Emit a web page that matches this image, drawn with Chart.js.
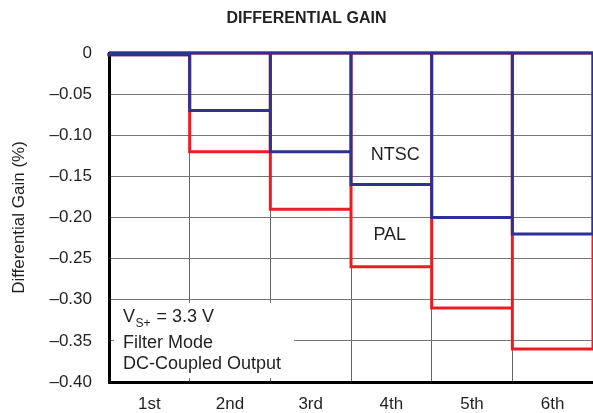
<!DOCTYPE html>
<html>
<head>
<meta charset="utf-8">
<script src="https://cdn.jsdelivr.net/npm/chart.js@4/dist/chart.umd.min.js"></script>
<style>
  body { margin: 0; background: #fff; }
  #wrap { width: 593px; height: 413px; }
</style>
</head>
<body>
<div id="wrap"><canvas id="myChart" width="593" height="413"></canvas></div>
<script>
// data
const categories = ['1st', '2nd', '3rd', '4th', '5th', '6th'];
const ntsc = [-0.002, -0.07, -0.12, -0.16, -0.20, -0.22];
const pal = [-0.002, -0.12, -0.19, -0.26, -0.31, -0.36];
const yTicks = [0, -0.05, -0.10, -0.15, -0.20, -0.25, -0.30, -0.35, -0.40];

const font = "'Liberation Sans', Arial, Helvetica, sans-serif";
const ink = '#231f20';

// each harmonic is an open box from 0 down to its value
function boxes(values) {
  let pts = [{ x: 0, y: 0 }];
  values.forEach((v, i) => {
    pts.push({ x: i, y: v });
    pts.push({ x: i + 1, y: v });
    pts.push({ x: i + 1, y: 0 });
  });
  pts.push({ x: 0, y: 0 });
  return pts;
}

const notes = {
  id: 'notes',
  beforeDatasetsDraw(chart) {
    const ctx = chart.ctx;
    const a = chart.chartArea;
    const y = chart.scales.y;
    // white panel behind the conditions text
    ctx.save();
    ctx.fillStyle = '#fff';
    const top = y.getPixelForValue(-0.30) + 3;
    ctx.fillRect(a.left + 5, top, 294 - (a.left + 5), a.bottom - 4 - top);
    ctx.restore();
  },
  afterDraw(chart) {
    const ctx = chart.ctx;
    const xl = chart.scales.xl;
    const y = chart.scales.y;
    ctx.save();
    ctx.fillStyle = ink;

    ctx.font = 'bold 16px ' + font;
    ctx.textAlign = 'center';
    ctx.textBaseline = 'middle';
    ctx.fillText('DIFFERENTIAL GAIN', 306.5, 19);

    ctx.font = '18px ' + font;
    ctx.fillText('NTSC', xl.getPixelForValue(3.55), y.getPixelForValue(-0.124));
    ctx.fillText('PAL', xl.getPixelForValue(3.48), y.getPixelForValue(-0.221));

    ctx.textAlign = 'left';
    ctx.textBaseline = 'alphabetic';
    ctx.fillText('V', 123, 322);
    ctx.font = '12px ' + font;
    ctx.fillText('S+', 135.5, 327);
    ctx.font = '18px ' + font;
    ctx.fillText('= 3.3 V', 156.5, 322);
    ctx.fillText('Filter Mode', 123, 347.5);
    ctx.fillText('DC-Coupled Output', 123, 369);
    ctx.restore();
  }
};

new Chart(document.getElementById('myChart').getContext('2d'), {
  type: 'line',
  data: {
    labels: categories,
    datasets: [
      {
        label: 'NTSC',
        data: boxes(ntsc),
        xAxisID: 'xl',
        borderColor: '#2e3092',
        borderWidth: 3,
        pointRadius: 0,
        fill: false,
        clip: false
      },
      {
        label: 'PAL',
        data: boxes(pal),
        xAxisID: 'xl',
        borderColor: '#ed1c24',
        borderWidth: 3,
        pointRadius: 0,
        fill: false,
        clip: false
      }
    ]
  },
  options: {
    responsive: false,
    animation: false,
    layout: { padding: { top: 53, left: 0, right: 0, bottom: 0 } },
    plugins: {
      legend: { display: false },
      tooltip: { enabled: false }
    },
    scales: {
      xl: {
        type: 'linear',
        display: false,
        min: 0,
        max: categories.length
      },
      x: {
        type: 'category',
        offset: true,
        grid: { offset: true, color: '#666', lineWidth: 1, drawTicks: false },
        border: { color: '#000', width: 3 },
        ticks: { color: ink, font: { family: font, size: 17 }, padding: 12, maxRotation: 0 },
        afterFit: s => { s.height = 31; }
      },
      y: {
        min: -0.4,
        max: 0,
        afterBuildTicks: s => { s.ticks = yTicks.map(v => ({ value: v })); },
        grid: { color: '#777', lineWidth: 1, drawTicks: false },
        border: { color: '#000', width: 3 },
        ticks: {
          color: ink,
          font: { family: font, size: 17 },
          padding: 17,
          callback: v => Math.abs(v) < 1e-9 ? '0' : '\u2013' + Math.abs(v).toFixed(2)
        },
        title: {
          display: true,
          text: 'Differential Gain (%)',
          color: ink,
          font: { family: font, size: 17 },
          padding: { top: 9, bottom: 0 }
        },
        afterFit: s => { s.width = 109; }
      }
    }
  },
  plugins: [notes]
});
</script>
</body>
</html>
